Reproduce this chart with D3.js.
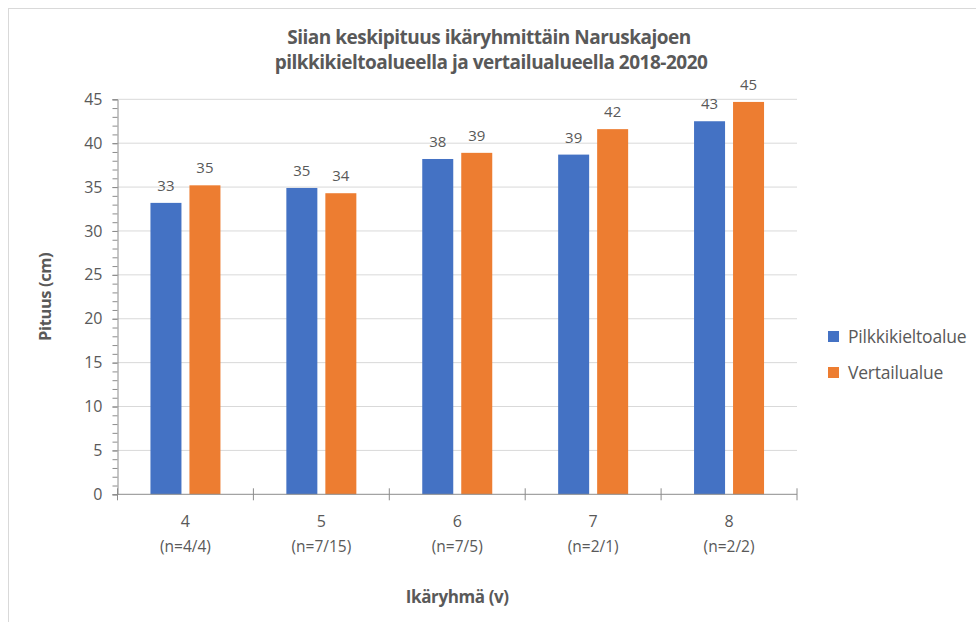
<!DOCTYPE html>
<html>
<head>
<meta charset="utf-8">
<script src="https://cdn.jsdelivr.net/npm/d3@7"></script>
<style>
  body { margin: 0; background: #fff; }
  text { font-family: "Open Sans", "Noto Sans", sans-serif; fill: #595959; }
</style>
</head>
<body>
<svg width="976" height="622"></svg>
<script>
const svg = d3.select("svg");

// data
const categories = ["4", "5", "6", "7", "8"];
const nLabels = ["(n=4/4)", "(n=7/15)", "(n=7/5)", "(n=2/1)", "(n=2/2)"];
const seriesNames = ["Pilkkikieltoalue", "Vertailualue"];
const pilkki = [33.2, 34.9, 38.2, 38.7, 42.5];
const vertailu = [35.2, 34.3, 38.9, 41.6, 44.7];
const colors = ["#4472C4", "#ED7D31"];

const margin = {left: 117.5, right: 797, top: 99.3, bottom: 494.3};

// chart border
svg.append("rect")
    .attr("x", 8.5).attr("y", 8.5)
    .attr("width", 1000).attr("height", 1000)
    .attr("fill", "none")
    .attr("stroke", "#d9d9d9");

const x = d3.scaleBand()
    .domain(categories)
    .range([margin.left, margin.right]);

const xInner = d3.scaleBand()
    .domain(seriesNames)
    .range([0, x.bandwidth()])
    .paddingInner(0.205)
    .paddingOuter(0.845);

const y = d3.scaleLinear()
    .domain([0, 45])
    .range([margin.bottom, margin.top]);

// gridlines
svg.append("g")
    .selectAll("line")
    .data(y.ticks(9).filter(d => d > 0))
    .enter().append("line")
        .attr("x1", margin.left)
        .attr("x2", margin.right)
        .attr("y1", d => y(d))
        .attr("y2", d => y(d))
        .attr("stroke", "#d9d9d9")
        .attr("stroke-width", 1);

// bars
const groups = svg.append("g")
    .selectAll("g")
    .data(categories)
    .enter().append("g")
        .attr("transform", d => "translate(" + x(d) + ",0)");

groups.selectAll("rect")
    .data((d, i) => [
        {series: seriesNames[0], value: pilkki[i], color: colors[0]},
        {series: seriesNames[1], value: vertailu[i], color: colors[1]}
    ])
    .enter().append("rect")
        .attr("x", d => xInner(d.series))
        .attr("width", xInner.bandwidth())
        .attr("y", d => y(d.value))
        .attr("height", d => y(0) - y(d.value))
        .attr("fill", d => d.color);

groups.selectAll("text.val")
    .data((d, i) => [
        {series: seriesNames[0], value: pilkki[i]},
        {series: seriesNames[1], value: vertailu[i]}
    ])
    .enter().append("text")
        .attr("class", "val")
        .attr("x", d => xInner(d.series) + xInner.bandwidth() / 2)
        .attr("y", d => y(d.value) - 12)
        .attr("text-anchor", "middle")
        .attr("font-size", "15px")
        .text(d => Math.round(d.value));

// y axis
const yMinor = svg.append("g")
    .attr("transform", "translate(" + margin.left + ",0)")
    .call(d3.axisLeft(y).ticks(45).tickSize(5).tickFormat(""));
yMinor.selectAll("line").attr("stroke", "#8c8c8c");
yMinor.select(".domain").remove();

const yAxis = svg.append("g")
    .attr("transform", "translate(" + margin.left + ",0)")
    .call(d3.axisLeft(y).ticks(9).tickSize(5).tickPadding(10));
yAxis.select(".domain").attr("stroke", "#8c8c8c");
yAxis.selectAll("line").attr("stroke", "#8c8c8c");
yAxis.selectAll("text")
    .attr("font-size", "16px")
    .attr("fill", "#595959")
    .attr("font-family", "Open Sans");

// x axis line and separators
svg.append("line")
    .attr("x1", margin.left).attr("x2", margin.right)
    .attr("y1", y(0)).attr("y2", y(0))
    .attr("stroke", "#8c8c8c");

svg.append("g")
    .selectAll("line")
    .data(categories.concat(["end"]))
    .enter().append("line")
        .attr("x1", (d, i) => margin.left + i * x.step())
        .attr("x2", (d, i) => margin.left + i * x.step())
        .attr("y1", y(0) - 6)
        .attr("y2", y(0) + 6)
        .attr("stroke", "#8c8c8c");

const catLabels = svg.append("g")
    .selectAll("text")
    .data(categories)
    .enter().append("text")
        .attr("x", d => x(d) + x.bandwidth() / 2)
        .attr("text-anchor", "middle")
        .attr("font-size", "16px");
catLabels.append("tspan")
    .attr("x", d => x(d) + x.bandwidth() / 2)
    .attr("y", 527)
    .text(d => d);
catLabels.append("tspan")
    .attr("x", d => x(d) + x.bandwidth() / 2)
    .attr("y", 552)
    .attr("font-size", "15.5px")
    .text((d, i) => nLabels[i]);

// titles
const title = svg.append("text")
    .attr("text-anchor", "middle")
    .attr("font-weight", "bold")
    .attr("font-size", "19px")
    .attr("letter-spacing", "-0.5px");
title.append("tspan").attr("x", 489).attr("y", 44)
    .text("Siian keskipituus ikäryhmittäin Naruskajoen");
title.append("tspan").attr("x", 491).attr("y", 69)
    .text("pilkkikieltoalueella ja vertailualueella 2018-2020");

svg.append("text")
    .attr("transform", "translate(51," + (margin.top + margin.bottom) / 2 + ") rotate(-90)")
    .attr("text-anchor", "middle")
    .attr("font-weight", "bold")
    .attr("font-size", "16.5px")
    .attr("letter-spacing", "-0.4px")
    .text("Pituus (cm)");

svg.append("text")
    .attr("x", (margin.left + margin.right) / 2)
    .attr("y", 603)
    .attr("text-anchor", "middle")
    .attr("font-weight", "bold")
    .attr("font-size", "17px")
    .attr("letter-spacing", "-0.4px")
    .text("Ikäryhmä (v)");

// legend
const legend = svg.append("g")
    .selectAll("g")
    .data(seriesNames)
    .enter().append("g")
        .attr("transform", (d, i) => "translate(828," + (331 + i * 36) + ")");
legend.append("rect")
    .attr("width", 11).attr("height", 11)
    .attr("fill", (d, i) => colors[i]);
legend.append("text")
    .attr("x", 20).attr("y", 12)
    .attr("font-size", "17.5px")
    .attr("letter-spacing", "-0.2px")
    .text(d => d);
</script>
</body>
</html>
